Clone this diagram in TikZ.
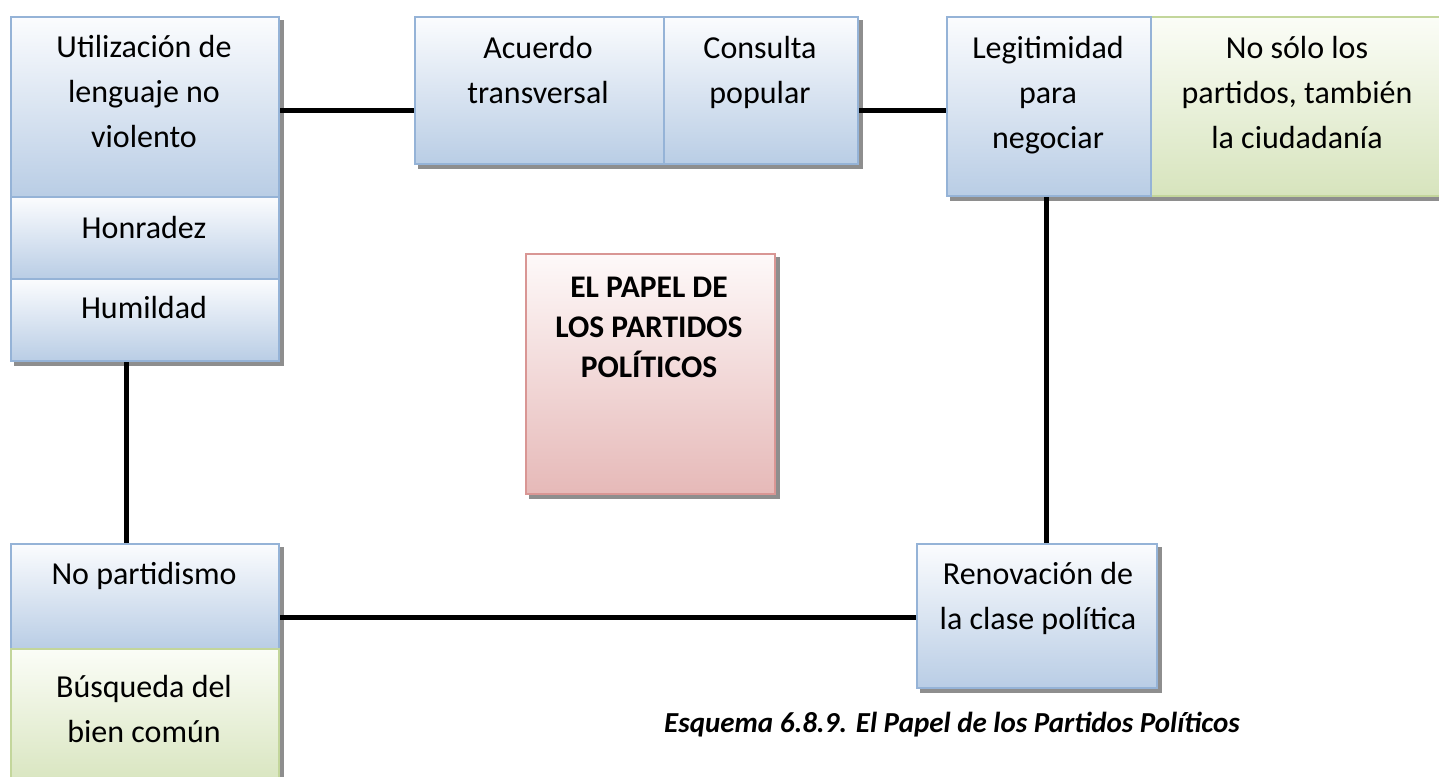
\documentclass[tikz,border=0pt]{standalone}
\usepackage{fontspec}
\setmainfont{Carlito}
\usetikzlibrary{backgrounds,calc}
\definecolor{bluetop}{HTML}{FBFCFE}
\definecolor{bluebot}{HTML}{B9CDE5}
\definecolor{blueline}{HTML}{95B3D7}
\definecolor{greentop}{HTML}{FBFDF7}
\definecolor{greenbot}{HTML}{D7E4BD}
\definecolor{greenline}{HTML}{C3D69B}
\definecolor{redtop}{HTML}{FEF9F9}
\definecolor{redbot}{HTML}{E6B9B8}
\definecolor{redline}{HTML}{D99694}
\definecolor{shadowc}{HTML}{8E8E8E}
\newcommand{\ls}{\rule[-9pt]{0pt}{33pt}}
\newcommand{\lsb}{\rule[-8pt]{0pt}{30pt}}
\begin{document}
\begin{tikzpicture}[x=1pt,y=-1pt,
  boxbase/.style={rectangle, anchor=north west, inner sep=0pt, line width=2pt},
  bluebox/.style={boxbase, draw=blueline, top color=bluetop, bottom color=bluebot},
  greenbox/.style={boxbase, draw=greenline, top color=greentop, bottom color=greenbot},
  redbox/.style={boxbase, draw=redline, top color=redtop, bottom color=redbot},
  txt/.style={font=\fontsize{32}{45}\selectfont, align=center, inner sep=0pt},
  titletxt/.style={font=\fontsize{31.5}{40}\selectfont\bfseries, align=center, inner sep=0pt},
  captxt/.style={font=\fontsize{29}{34}\selectfont\bfseries\itshape, inner sep=0pt, anchor=base},
  conn/.style={line width=5pt, black},
  shadowfill/.style={fill=shadowc}]
\useasboundingbox (0,0) rectangle (1439,776);
\clip (0,0) rectangle (1439,776);

% boxes
\node[bluebox, minimum width=268pt, minimum height=180pt] (util) at (10,16) {};
\node[bluebox, minimum width=268pt, minimum height=82pt] (honr) at (10,196) {};
\node[bluebox, minimum width=268pt, minimum height=82pt] (humil) at (10,278) {};
\node[bluebox, minimum width=249pt, minimum height=147pt] (acuer) at (414,16) {};
\node[bluebox, minimum width=194pt, minimum height=147pt] (consul) at (663,16) {};
\node[greenbox, minimum width=296pt, minimum height=179pt] (nosolo) at (1150,16) {};
\node[bluebox, minimum width=204pt, minimum height=179pt] (legit) at (946,16) {};
\node[redbox, minimum width=249pt, minimum height=240pt] (papel) at (525,253) {};
\node[bluebox, minimum width=268pt, minimum height=105pt] (nopart) at (10,543) {};
\node[greenbox, minimum width=268pt, minimum height=140pt] (busq) at (10,648) {};
\node[bluebox, minimum width=240pt, minimum height=144pt] (renov) at (916,543) {};

% shadows
\begin{pgfonlayer}{background}
\fill[shadowfill] ([shift={(4,4)}]util.north west) rectangle ([shift={(4,4)}]humil.south east);
\fill[shadowfill] ([shift={(4,4)}]acuer.north west) rectangle ([shift={(4,4)}]consul.south east);
\fill[shadowfill] ([shift={(4,4)}]legit.north west) rectangle ([shift={(4,4)}]nosolo.south east);
\fill[shadowfill] ([shift={(4,4)}]papel.north west) rectangle ([shift={(4,4)}]papel.south east);
\fill[shadowfill] ([shift={(4,4)}]nopart.north west) rectangle ([shift={(4,4)}]busq.south east);
\fill[shadowfill] ([shift={(4,4)}]renov.north west) rectangle ([shift={(4,4)}]renov.south east);
\end{pgfonlayer}

% texts
\node[txt] (tutil) at (144,94.5) {\ls Utilización de\\\ls lenguaje no\\\ls violento};
\node[txt] (thonr) at (144,230.5) {\ls Honradez};
\node[txt] (thumil) at (144,310.5) {\ls Humildad};
\node[txt] (tacuer) at (538,73) {\ls Acuerdo\\\ls transversal};
\node[txt] (tconsul) at (760,73) {\ls Consulta\\\ls popular};
\node[txt] (tlegit) at (1048,95.5) {\ls Legitimidad\\\ls para\\\ls negociar};
\node[txt] (tnosolo) at (1297,95.5) {\ls No sólo los\\\ls partidos, también\\\ls la ciudadanía};
\node[titletxt] (tpapel) at (649,330) {\lsb EL PAPEL DE\\\lsb LOS PARTIDOS\\\lsb POLÍTICOS};
\node[txt] (tnopart) at (144,576.5) {\ls No partidismo};
\node[txt] (tbusq) at (144,712) {\ls Búsqueda del\\\ls bien común};
\node[txt] (trenov) at (1038,599) {\ls Renovación de\\\ls la clase política};
\node[captxt] (caption) at (952,732) {Esquema 6.8.9. El Papel de los Partidos Políticos};

% connectors
\coordinate (ytop) at (0,110);
\coordinate (ybot) at (0,617);
\coordinate (xleft) at (126,0);
\coordinate (xright) at (1046,0);
\draw[conn] (util.east |- ytop) -- (acuer.west |- ytop);
\draw[conn] (consul.east |- ytop) -- (legit.west |- ytop);
\draw[conn] (humil.south -| xleft) -- (nopart.north -| xleft);
\draw[conn] (legit.south -| xright) -- (renov.north -| xright);
\draw[conn] (nopart.east |- ybot) -- (renov.west |- ybot);
\end{tikzpicture}
\end{document}
